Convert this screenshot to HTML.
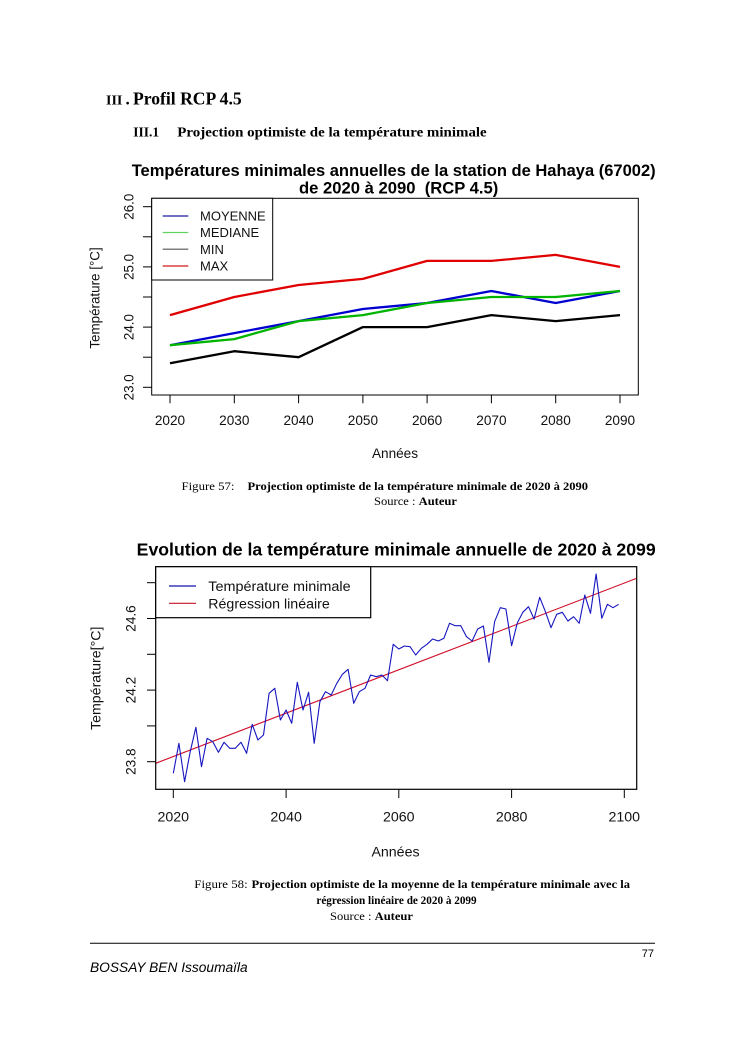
<!DOCTYPE html>
<html>
<head>
<meta charset="utf-8">
<style>
html,body{margin:0;padding:0;background:#fff;}
svg{display:block;}
.s{font-family:"Liberation Sans",Arial,sans-serif;}
.t{font-family:"Liberation Serif","Times New Roman",serif;}
</style>
</head>
<body>
<svg width="745" height="1053" viewBox="0 0 745 1053" xmlns="http://www.w3.org/2000/svg">
<rect width="745" height="1053" fill="#fff"/>

<!-- Headings -->
<text class="t" x="106" y="104.3" font-size="14" font-weight="bold">III</text>
<text class="t" x="125.5" y="104.3" font-size="17" font-weight="bold">.</text>
<text class="t" x="133" y="104.3" font-size="17.4" font-weight="bold" textLength="108.7" lengthAdjust="spacingAndGlyphs">Profil RCP 4.5</text>
<text class="t" x="133.3" y="136.7" font-size="13.5" font-weight="bold">III.1</text>
<text class="t" x="177.3" y="136.7" font-size="13.5" font-weight="bold" textLength="309.4" lengthAdjust="spacingAndGlyphs">Projection optimiste de la température minimale</text>

<!-- Chart 1 -->
<g class="s">
<text x="131.7" y="176" font-size="16.6" font-weight="bold" textLength="524" lengthAdjust="spacingAndGlyphs">Températures minimales annuelles de la station de Hahaya (67002)</text>
<text x="299" y="193.5" font-size="16.6" font-weight="bold" textLength="199.3" lengthAdjust="spacingAndGlyphs" style="white-space:pre">de 2020 à 2090  (RCP 4.5)</text>

<!-- series -->
<g fill="none" stroke-width="2.3" stroke-linejoin="round">
<polyline stroke="#0000d0" points="170,345.2 234.3,333.1 298.6,321.1 362.9,309.0 427.1,303.0 491.4,291.0 555.7,303.0 620,291.0"/>
<polyline stroke="#00b400" points="170,345.2 234.3,339.1 298.6,321.1 362.9,315.1 427.1,303.0 491.4,297.0 555.7,297.0 620,291.0"/>
<polyline stroke="#000000" points="170,363.2 234.3,351.2 298.6,357.2 362.9,327.1 427.1,327.1 491.4,315.1 555.7,321.1 620,315.1"/>
<polyline stroke="#e00000" points="170,315.1 234.3,297.0 298.6,285.0 362.9,278.9 427.1,260.9 491.4,260.9 555.7,254.9 620,266.9"/>
</g>

<!-- box -->
<rect x="151.7" y="198.3" width="486.6" height="196.7" fill="none" stroke="#000" stroke-width="1"/>

<!-- legend -->
<rect x="151.7" y="198.3" width="121" height="81.7" fill="#fff" stroke="#000" stroke-width="1"/>
<line x1="162.7" y1="216" x2="188.3" y2="216" stroke="#1a1aa0" stroke-width="1.2"/>
<line x1="162.7" y1="232.5" x2="188.3" y2="232.5" stroke="#5fd35f" stroke-width="1.2"/>
<line x1="162.7" y1="249.2" x2="188.3" y2="249.2" stroke="#555" stroke-width="1.2"/>
<line x1="162.7" y1="266" x2="188.3" y2="266" stroke="#d21a1a" stroke-width="1.2"/>
<g font-size="13" fill="#111">
<text x="200" y="220.7">MOYENNE</text>
<text x="200" y="237.2">MEDIANE</text>
<text x="200" y="254">MIN</text>
<text x="200" y="270.7">MAX</text>
</g>

<!-- y axis ticks -->
<g stroke="#000" stroke-width="1">
<line x1="143" y1="206.7" x2="151.7" y2="206.7"/>
<line x1="143" y1="236.8" x2="151.7" y2="236.8"/>
<line x1="143" y1="266.9" x2="151.7" y2="266.9"/>
<line x1="143" y1="297" x2="151.7" y2="297"/>
<line x1="143" y1="327.1" x2="151.7" y2="327.1"/>
<line x1="143" y1="357.2" x2="151.7" y2="357.2"/>
<line x1="143" y1="387.3" x2="151.7" y2="387.3"/>
</g>
<g font-size="13.4" fill="#111" text-anchor="middle">
<text transform="translate(133.3,206.7) rotate(-90)">26.0</text>
<text transform="translate(133.3,266.9) rotate(-90)">25.0</text>
<text transform="translate(133.3,327.1) rotate(-90)">24.0</text>
<text transform="translate(133.3,387.3) rotate(-90)">23.0</text>
<text transform="translate(99.5,298) rotate(-90)" font-size="13.4">Température [°C]</text>
</g>

<!-- x axis ticks -->
<g stroke="#000" stroke-width="1">
<line x1="170" y1="395" x2="170" y2="403.3"/>
<line x1="234.3" y1="395" x2="234.3" y2="403.3"/>
<line x1="298.6" y1="395" x2="298.6" y2="403.3"/>
<line x1="362.9" y1="395" x2="362.9" y2="403.3"/>
<line x1="427.1" y1="395" x2="427.1" y2="403.3"/>
<line x1="491.4" y1="395" x2="491.4" y2="403.3"/>
<line x1="555.7" y1="395" x2="555.7" y2="403.3"/>
<line x1="620" y1="395" x2="620" y2="403.3"/>
</g>
<g font-size="13.6" fill="#111" text-anchor="middle">
<text x="170" y="425">2020</text>
<text x="234.3" y="425">2030</text>
<text x="298.6" y="425">2040</text>
<text x="362.9" y="425">2050</text>
<text x="427.1" y="425">2060</text>
<text x="491.4" y="425">2070</text>
<text x="555.7" y="425">2080</text>
<text x="620" y="425">2090</text>
<text x="395" y="458">Années</text>
</g>
</g>

<!-- Caption 57 -->
<g class="t" font-size="11.2">
<text x="181.5" y="490" textLength="53" lengthAdjust="spacingAndGlyphs">Figure 57:</text>
<text x="247.5" y="490" font-weight="bold" textLength="340.5" lengthAdjust="spacingAndGlyphs">Projection optimiste de la température minimale de 2020 à 2090</text>
<text x="374" y="505" textLength="83" lengthAdjust="spacingAndGlyphs">Source : <tspan font-weight="bold">Auteur</tspan></text>
</g>

<!-- Chart 2 -->
<g class="s">
<text x="136.7" y="555.5" font-size="17.6" font-weight="bold" textLength="519" lengthAdjust="spacingAndGlyphs">Evolution de la température minimale annuelle de 2020 à 2099</text>

<line x1="155.7" y1="763.3" x2="636.7" y2="578.3" stroke="#d0102a" stroke-width="1.1"/>
<polyline fill="none" stroke="#1515c0" stroke-width="1.1" stroke-linejoin="round" points="
173.3,773.3 178.9,743.3 184.6,781.7 190.2,751.7 195.9,727.3 201.5,766.7 207.1,738.3 212.8,741.7 218.4,752.3 224.0,742.3
229.7,748.3 235.3,748.3 241.0,742.3 246.6,753.3 252.2,724.3 257.9,740 263.5,735 269.1,693.3 274.8,688.3 280.4,720
286.1,710 291.7,723.3 297.3,682.3 303.0,710 308.6,692.3 314.2,743.3 319.9,701.7 325.5,691.7 331.2,695 336.8,683.3
342.4,674.3 348.1,669.3 353.7,703.3 359.3,691.7 365.0,688.3 370.6,675 376.3,676.7 381.9,675 387.5,680.7 393.2,644.3
398.8,649 404.4,646 410.1,646.7 415.7,655 421.4,648.3 427.0,644.3 432.6,639 438.3,641 443.9,638.3 449.5,623.3
455.2,625.7 460.8,625.7 466.5,636.7 472.1,641 477.7,629 483.4,626 489.0,662.3 494.6,621.7 500.3,607.7 505.9,609
511.6,645.7 517.2,623.3 522.8,612.3 528.5,606.7 534.1,619 539.7,597.3 545.4,611.7 551.0,627.7 556.7,614.3 562.3,612.3
567.9,621 573.6,616.7 579.2,623.3 584.8,595 590.5,613.3 596.1,574 601.8,618.3 607.4,604.3 613.0,607.7 618.7,604.3"/>

<rect x="155.7" y="566.7" width="481" height="222.6" fill="none" stroke="#000" stroke-width="1.2"/>

<!-- legend -->
<rect x="155.7" y="566.7" width="215" height="51" fill="#fff" stroke="#000" stroke-width="1.2"/>
<line x1="169" y1="586" x2="196" y2="586" stroke="#1515b0" stroke-width="1.2"/>
<line x1="169" y1="603.3" x2="196" y2="603.3" stroke="#c81428" stroke-width="1.2"/>
<g font-size="14.2" fill="#111">
<text x="208.3" y="591" textLength="142.3" lengthAdjust="spacingAndGlyphs">Température minimale</text>
<text x="208.3" y="608.3">Régression linéaire</text>
</g>

<!-- y ticks -->
<g stroke="#000" stroke-width="1">
<line x1="147" y1="761.7" x2="155.7" y2="761.7"/>
<line x1="147" y1="725.9" x2="155.7" y2="725.9"/>
<line x1="147" y1="690.1" x2="155.7" y2="690.1"/>
<line x1="147" y1="654.3" x2="155.7" y2="654.3"/>
<line x1="147" y1="618.5" x2="155.7" y2="618.5"/>
<line x1="147" y1="582.7" x2="155.7" y2="582.7"/>
</g>
<g font-size="13.6" fill="#111" text-anchor="middle">
<text transform="translate(135.5,761.7) rotate(-90)">23.8</text>
<text transform="translate(135.5,690.1) rotate(-90)">24.2</text>
<text transform="translate(135.5,618.5) rotate(-90)">24.6</text>
<text transform="translate(100.5,678.3) rotate(-90)" font-size="14.2">Température[°C]</text>
</g>

<!-- x ticks -->
<g stroke="#000" stroke-width="1">
<line x1="173.3" y1="789.3" x2="173.3" y2="798"/>
<line x1="286.1" y1="789.3" x2="286.1" y2="798"/>
<line x1="398.8" y1="789.3" x2="398.8" y2="798"/>
<line x1="511.6" y1="789.3" x2="511.6" y2="798"/>
<line x1="624.3" y1="789.3" x2="624.3" y2="798"/>
</g>
<g font-size="14.2" fill="#111" text-anchor="middle">
<text x="173.3" y="821.5">2020</text>
<text x="286.1" y="821.5">2040</text>
<text x="398.8" y="821.5">2060</text>
<text x="511.6" y="821.5">2080</text>
<text x="624.3" y="821.5">2100</text>
<text x="395.5" y="856.5">Années</text>
</g>
</g>

<!-- Caption 58 -->
<g class="t" font-size="11.2">
<text x="194.3" y="888" textLength="53.4" lengthAdjust="spacingAndGlyphs">Figure 58:</text>
<text x="251.5" y="888" font-weight="bold" textLength="378.5" lengthAdjust="spacingAndGlyphs">Projection optimiste de la moyenne de la température minimale avec la</text>
<text x="396.5" y="904" font-weight="bold" text-anchor="middle">régression linéaire de 2020 à 2099</text>
<text x="330" y="920" textLength="83" lengthAdjust="spacingAndGlyphs">Source : <tspan font-weight="bold">Auteur</tspan></text>
</g>

<!-- Footer -->
<line x1="90" y1="943.3" x2="655" y2="943.3" stroke="#000" stroke-width="1"/>
<text class="s" x="654" y="957" font-size="11" text-anchor="end">77</text>
<text class="s" x="90" y="972" font-size="13.5" font-style="italic" textLength="157.7" lengthAdjust="spacingAndGlyphs">BOSSAY BEN Issoumaïla</text>
</svg>
</body>
</html>
